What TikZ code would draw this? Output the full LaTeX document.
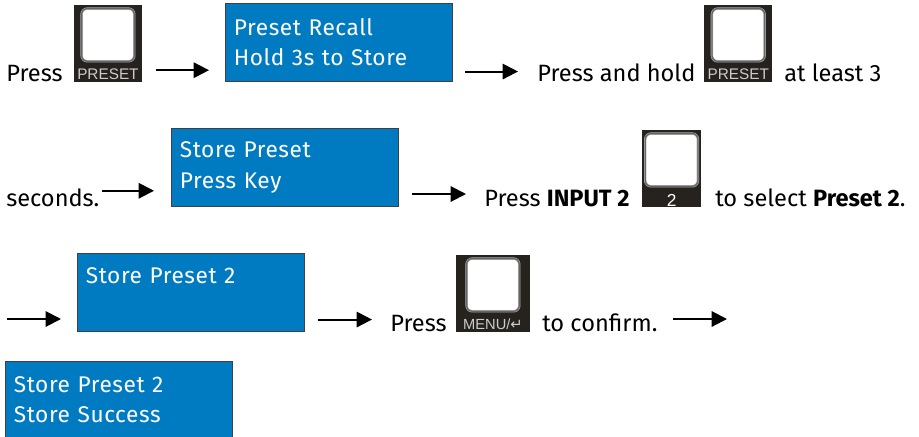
\documentclass[tikz,border=0pt]{standalone}
\usepackage{fontspec}
\setmainfont{Fira Sans}
\newfontfamily\keyfont{Liberation Sans}
\newfontfamily\enterfont{DejaVu Sans}
\usetikzlibrary{positioning,arrows.meta}
\definecolor{lcdblue}{RGB}{0, 122, 193}
\definecolor{keydark}{RGB}{38, 34, 30}
\tikzstyle{lcd} = [
    rectangle,
    draw=black!75,
    fill=lcdblue,
    text=white,
    anchor=north west,
    align=left,
    inner xsep=6.5pt,
    text width=157pt,
    minimum height=58.5pt,
    font=\fontsize{17}{23}\selectfont\addfontfeature{LetterSpace=2.5}
]
\tikzstyle{keybody} = [
    rectangle,
    fill=keydark,
    anchor=north west,
    inner sep=0pt,
    minimum height=57.5pt
]
\tikzstyle{keyface} = [
    rectangle,
    rounded corners=1.5mm,
    draw=black!30,
    double=black!60,
    double distance=1pt,
    fill=white,
    inner sep=0pt,
    minimum width=39.5pt,
    minimum height=39.5pt
]
\tikzstyle{keylabel} = [
    inner sep=0pt,
    text=black!20,
    font=\keyfont\fontsize{11.5}{11.5}\selectfont
]
\tikzstyle{caption} = [
    anchor=base west,
    inner sep=0pt,
    font=\fontsize{17.7}{21}\selectfont
]
\tikzstyle{arrow} = [
    line width=1.5pt,
    -{Triangle[length=11.5pt,width=11.5pt]},
    draw=black
]
\begin{document}
\begin{tikzpicture}[x=0.75pt, y=-0.75pt]
    \useasboundingbox (0,0) rectangle (919,436);

    % first row
    \node[caption] (pressA) at (6,81) {Press};
    \node[keybody, minimum width=50.5pt] (keyA) at (74,5) {};
    \node[keyface, below=2.5pt of keyA.north] (faceA) {};
    \node[keylabel, above=1.6pt of keyA.south] (labelA) {PRESET};
    \node[lcd] (recall) at (225,3) {Preset Recall\\Hold 3s to Store};
    \node[caption] (pressB) at (537,81) {Press and hold};
    \node[keybody, minimum width=51pt] (keyB) at (704,5) {};
    \node[keyface, below=2.5pt of keyB.north] (faceB) {};
    \node[keylabel, above=1.6pt of keyB.south] (labelB) {PRESET};
    \node[caption] (leastB) at (784,81) {at least 3};

    % second row
    \node[caption] (seconds) at (6,206) {seconds.};
    \node[lcd] (store) at (171,128) {Store Preset\\Press Key};
    \node[caption] (pressC) at (484,206) {Press \textbf{INPUT 2}};
    \node[keybody, minimum width=44pt] (keyC) at (642,130) {};
    \node[keyface, below=2.5pt of keyC.north] (faceC) {};
    \node[keylabel, above=0pt of keyC.south, text=white, font=\keyfont\fontsize{13}{13}\selectfont] (labelC) {2};
    \node[caption] (selectC) at (715,206) {to select \textbf{Preset 2}.};

    % third row
    \coordinate (startD) at (7,319);
    \node[lcd] (chosen) at (77,253) {Store Preset 2\\[-4.5pt] \strut};
    \node[caption] (pressD) at (390,331) {Press};
    \node[keybody, minimum width=55pt] (keyD) at (456,255) {};
    \node[keyface, below=2.5pt of keyD.north] (faceD) {};
    \node[keylabel, above=1.6pt of keyD.south, font=\keyfont\fontsize{11}{11}\selectfont] (labelD) {MENU/{\enterfont\symbol{"21B5}}};
    \node[caption] (confirm) at (542,331) {to confirm.};
    \coordinate (endD) at (727,319);

    % last row
    \node[lcd, minimum height=57.75pt] (success) at (5,361) {Store Preset 2\\Store Success};

    \draw[arrow, shorten <=10.5pt, shorten >=12pt] ([yshift=9pt]keyA.south east) -- ([yshift=9pt]keyA.south east -| recall.west);
    \draw[arrow, shorten <=9.75pt, shorten >=14.25pt] ([yshift=7.5pt]recall.south east) -- ([yshift=7.5pt]recall.south east -| pressB.west);
    \draw[arrow, shorten <=1.5pt, shorten >=12.75pt] ([yshift=4.9pt]seconds.east) -- ([yshift=4.9pt]seconds.east -| store.west);
    \draw[arrow, shorten <=10.5pt, shorten >=13.5pt] ([yshift=9.4pt]store.south east) -- ([yshift=9.4pt]store.south east -| pressC.west);
    \draw[arrow, shorten >=12pt] (startD) -- (startD -| chosen.west);
    \draw[arrow, shorten <=10.5pt, shorten >=13.5pt] ([yshift=9pt]chosen.south east) -- ([yshift=9pt]chosen.south east -| pressD.west);
    \draw[arrow, shorten <=11.25pt] (confirm.east |- endD) -- (endD);
\end{tikzpicture}
\end{document}
